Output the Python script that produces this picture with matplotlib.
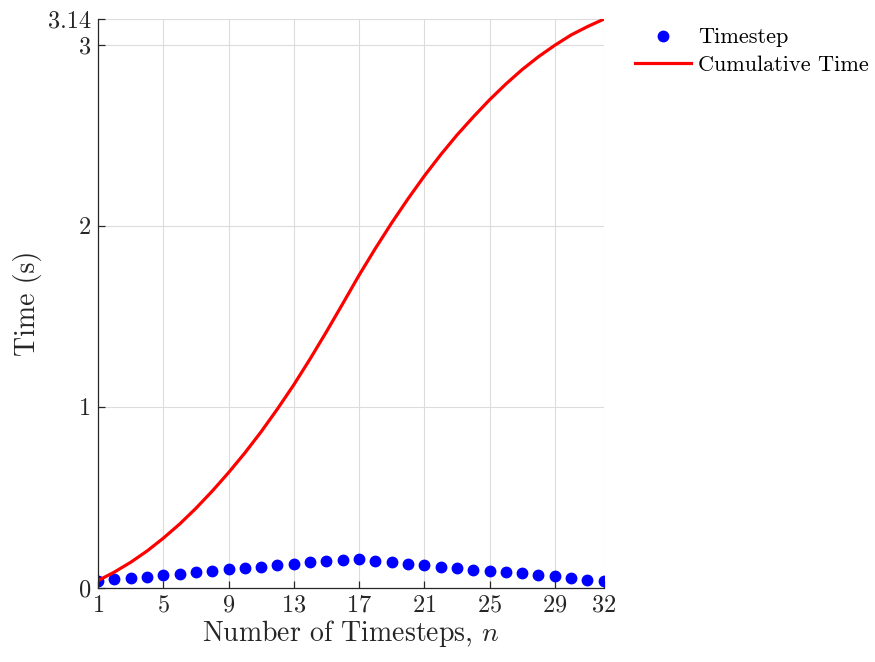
import numpy as np
import matplotlib
matplotlib.use('Agg')
import matplotlib.pyplot as plt

# данные
n = list(range(1, 33))
timestep = [0.040, 0.047, 0.054, 0.062, 0.071, 0.078, 0.087, 0.095,
            0.102, 0.109, 0.117, 0.126, 0.133, 0.143, 0.150, 0.155,
            0.157, 0.148, 0.141, 0.133, 0.126, 0.117, 0.109, 0.100,
            0.095, 0.087, 0.080, 0.071, 0.063, 0.054, 0.045, 0.040]
cumulative = [0.040, 0.087, 0.141, 0.203, 0.274, 0.352, 0.439, 0.534,
              0.636, 0.745, 0.862, 0.988, 1.121, 1.264, 1.414, 1.569,
              1.726, 1.874, 2.015, 2.148, 2.274, 2.391, 2.500, 2.600,
              2.695, 2.782, 2.862, 2.933, 2.996, 3.053, 3.099, 3.140]
xticks = [1, 5, 9, 13, 17, 21, 25, 29, 32]
yticks = [0, 1, 2, 3, 3.14]
ytick_labels = ['0', '1', '2', '3', '3.14']

plt.rcParams['font.family'] = 'serif'
plt.rcParams['font.serif'] = ['cmr10']
plt.rcParams['mathtext.fontset'] = 'cm'
plt.rcParams['axes.formatter.use_mathtext'] = True

fig = plt.figure(figsize=(8.75, 6.62), dpi=100)
ax = fig.add_axes([0.112, 0.112, 0.578, 0.859])

ax.plot(n, timestep, 'o', color='#0000ff', markersize=7.5, label='Timestep')
ax.plot(n, cumulative, '-', color='#ff0000', linewidth=2.3, label='Cumulative Time')

ax.set_xlim(1, 32)
ax.set_ylim(0, 3.14)
ax.set_xticks(xticks)
ax.set_yticks(yticks)
ax.set_yticklabels(ytick_labels)

ax.grid(True, color='#dcdcdc', linewidth=0.8)
ax.set_axisbelow(True)
for s in ['top', 'right']:
    ax.spines[s].set_visible(False)
for s in ['left', 'bottom']:
    ax.spines[s].set_color('#262626')
    ax.spines[s].set_linewidth(0.9)
ax.tick_params(direction='in', length=5, width=0.9, color='#262626',
               labelsize=17.5, labelcolor='#262626', pad=5)

ax.set_xlabel('Number of Timesteps, $n$', fontsize=20, color='#262626', labelpad=1)
ax.set_ylabel('Time (s)', fontsize=20, color='#262626', labelpad=4)

fig.legend(loc='upper left', bbox_to_anchor=(0.703, 0.988), frameon=False,
           fontsize=16, handlelength=2.5, handletextpad=0.35, labelspacing=0.35)

plt.savefig('out.png', dpi=100)
